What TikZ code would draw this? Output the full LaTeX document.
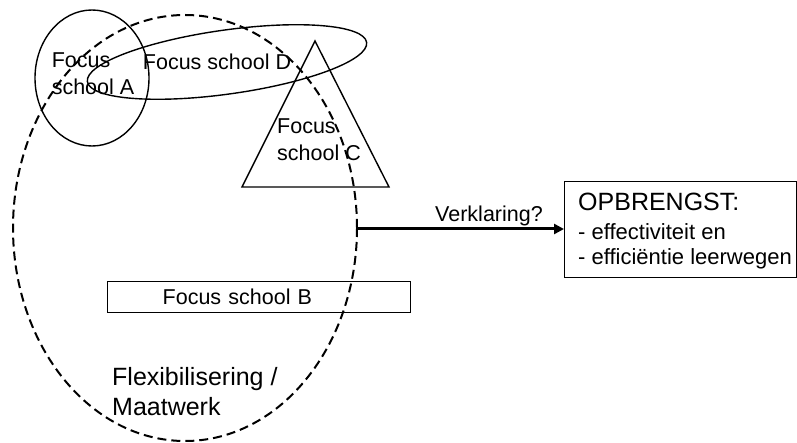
\documentclass[tikz,border=0pt]{standalone}
\usepackage{fontspec}
\setmainfont{Liberation Sans}
\usetikzlibrary{arrows.meta}
\tikzset{
  outline/.style={line width=1.4pt},
  smalltxt/.style={font=\fontsize{21.5}{27}\selectfont, inner sep=0pt},
  bigtxt/.style={font=\fontsize{25}{30}\selectfont, inner sep=0pt},
}

\begin{document}
\begin{tikzpicture}[x=1pt,y=-1pt]
\useasboundingbox (0,0) rectangle (797,443);
% schools
\draw[line width=2pt,dash pattern=on 9pt off 5pt] (185,228) ellipse [x radius=172, y radius=213];
\draw[outline] (92,78) ellipse [x radius=57, y radius=68];
\draw[outline, rotate around={8:(227,62)}] (227,62) ellipse [x radius=141, y radius=32];
\draw[outline] (315,41) -- (389,187) -- (242,187) -- cycle;
\node[smalltxt, align=left] (schoolA) at (93,74) {Focus\\school A};
\node[smalltxt] (schoolD) at (217,62) {Focus school D};
\node[smalltxt, align=left] (schoolC) at (319,140) {Focus\\school C};
\node[smalltxt, draw, outline, anchor=north west, text width=193pt, inner xsep=55pt, inner ysep=0pt, minimum height=31pt, align=left] (schoolB) at (107,281) {Focus school B};
\node[bigtxt, align=left, anchor=west] (flex) at (112,392) {Flexibilisering /\\Maatwerk};
% outcome
\node[draw, outline, anchor=north west, minimum width=232pt, minimum height=96pt, inner sep=0pt] (opb) at (564,181) {};
\node[smalltxt, font=\fontsize{22}{25}\selectfont, anchor=north west, align=left] (opbtxt) at (578,193) {{\fontsize{25}{30}\selectfont OPBRENGST:}\\[4pt]- effectiviteit en\\- efficiëntie leerwegen};
\coordinate (exit) at (357,229);
\draw[line width=3pt, -{Triangle[length=10pt,width=10pt]}] (exit) -- (opb.west |- exit);
\node[smalltxt] (why) at (489,216) {Verklaring?};
\end{tikzpicture}
\end{document}
